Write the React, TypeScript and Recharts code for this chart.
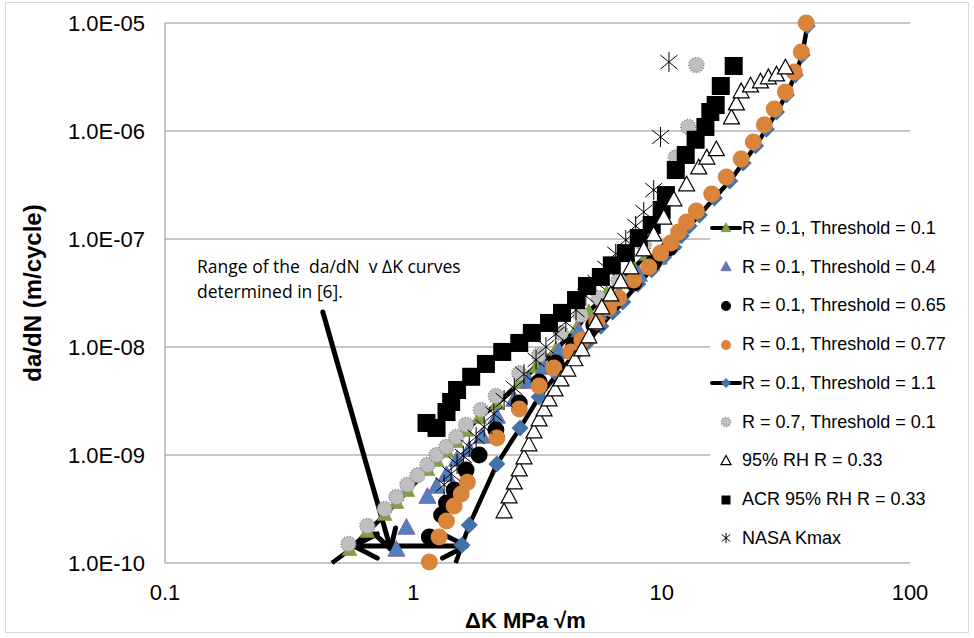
import React from 'react';
import { ScatterChart, Scatter, XAxis, YAxis, CartesianGrid, ReferenceLine, Legend, Label } from 'recharts';

// [ΔK (MPa√m), da/dN (m/cycle)]
const th01Tail: [number, number] = [0.47, 1.0e-10];
const th01: [number, number][] = [
    [0.553, 1.32e-10], [0.653, 1.94e-10], [0.766, 2.78e-10], [0.855, 3.6e-10], [0.946, 4.64e-10],
    [1.14, 7.26e-10], [1.24, 8.8e-10], [1.36, 1.07e-9], [1.49, 1.32e-9], [1.63, 1.67e-9],
    [1.84, 2.2e-9], [2.17, 2.97e-9], [2.67, 4.64e-9], [3.12, 6.5e-9], [3.75, 9.4e-9],
    [4.56, 1.5e-8], [5.09, 2.11e-8], [6.01, 3.16e-8], [6.72, 3.92e-8], [7.72, 5.4e-8], [8.71, 7.1e-8],
];
const th04: [number, number][] = [
    [0.855, 1.32e-10], [0.938, 2.11e-10], [1.14, 4.08e-10], [1.24, 5.06e-10], [1.36, 6.5e-10],
    [1.5, 9.0e-10], [1.68, 1.11e-9], [1.89, 1.47e-9], [2.17, 2.25e-9], [2.55, 3.23e-9],
    [2.92, 4.74e-9], [3.36, 6.4e-9], [3.86, 9.0e-9], [4.64, 1.38e-8], [5.58, 2.07e-8],
    [6.72, 3.1e-8], [8.09, 4.64e-8], [9.72, 6.7e-8],
];
const th065: [number, number][] = [
    [1.16, 1.74e-10], [1.3, 2.78e-10], [1.36, 3.6e-10], [1.46, 4.74e-10], [1.63, 7.26e-10],
    [1.84, 1.0e-9], [2.15, 1.7e-9], [2.67, 3.03e-9], [3.21, 4.74e-9], [3.75, 7.1e-9],
    [4.43, 1.04e-8], [5.33, 1.6e-8], [6.41, 2.55e-8], [7.72, 3.92e-8], [9.29, 6.1e-8], [10.7, 8.3e-8],
];
const th077: [number, number][] = [
    [1.16, 1.02e-10], [1.27, 1.74e-10], [1.36, 2.45e-10], [1.46, 3.37e-10], [1.56, 4.35e-10],
    [1.65, 5.6e-10], [2.17, 1.44e-9], [2.67, 2.67e-9], [3.21, 4.35e-9], [3.68, 6.4e-9],
    [4.31, 9.0e-9], [4.77, 1.16e-8], [5.48, 1.7e-8], [6.12, 2.3e-8], [6.72, 2.84e-8],
    [7.72, 4.17e-8], [8.87, 5.5e-8], [9.9, 7.4e-8], [10.9, 9.2e-8], [11.7, 1.16e-7],
    [12.6, 1.44e-7], [13.8, 1.82e-7], [15.9, 2.61e-7], [18.2, 3.75e-7], [20.9, 5.5e-7],
    [23.4, 7.9e-7], [25.9, 1.14e-6], [28.4, 1.6e-6], [31.5, 2.3e-6], [34.2, 3.52e-6],
    [36.5, 5.4e-6], [38.2, 1.0e-5],
];
const th11Tail: [number, number] = [1.48, 1.0e-10];
const th11: [number, number][] = [
    [1.57, 1.47e-10], [1.68, 2.25e-10], [2.17, 8.26e-10], [2.69, 1.78e-9], [3.21, 3.44e-9],
    [3.79, 5.6e-9], [4.43, 8.3e-9], [5.0, 1.09e-8], [5.69, 1.56e-8], [6.35, 2.11e-8],
    [6.97, 2.61e-8], [8.01, 3.83e-8], [9.12, 5.2e-8], [10.2, 6.8e-8], [11.2, 8.4e-8],
    [12.0, 1.07e-7], [12.9, 1.32e-7], [14.2, 1.67e-7], [16.3, 2.4e-7], [18.8, 3.44e-7],
    [21.3, 5.06e-7], [23.9, 7.3e-7], [26.4, 1.04e-6], [29.0, 1.5e-6], [31.8, 2.16e-6],
    [34.5, 3.3e-6], [36.8, 5.06e-6], [38.6, 9.4e-6],
];
const r07: [number, number][] = [
    [0.548, 1.5e-10], [0.653, 2.2e-10], [0.766, 3.16e-10], [0.855, 4.08e-10], [0.946, 5.3e-10],
    [1.04, 6.5e-10], [1.14, 8.1e-10], [1.24, 1.0e-9], [1.36, 1.19e-9], [1.49, 1.47e-9],
    [1.63, 1.9e-9], [1.87, 2.61e-9], [2.15, 3.52e-9], [2.67, 5.7e-9], [3.21, 8.4e-9],
    [3.93, 1.35e-8], [4.73, 1.98e-8], [5.58, 2.84e-8], [6.72, 4.17e-8], [8.47, 8.8e-8],
    [11.4, 5.7e-7], [12.8, 1.09e-6], [13.8, 4.08e-6],
];
const rh95: [number, number][] = [
    [2.32, 2.97e-10], [2.43, 4.08e-10], [2.55, 5.5e-10], [2.67, 7.26e-10], [2.79, 9.4e-10],
    [2.92, 1.24e-9], [3.06, 1.63e-9], [3.21, 2.11e-9], [3.36, 2.61e-9], [3.52, 3.23e-9],
    [3.72, 4.0e-9], [3.93, 4.94e-9], [4.19, 6.1e-9], [4.47, 7.6e-9], [4.77, 9.4e-9],
    [5.09, 1.24e-8], [5.43, 1.67e-8], [5.74, 2.3e-8], [6.24, 3.03e-8], [6.84, 4.0e-8],
    [7.51, 5.4e-8], [8.47, 7.9e-8], [9.29, 1.09e-7], [10.2, 1.56e-7], [11.2, 2.3e-7],
    [12.6, 3.16e-7], [14.1, 4.54e-7], [15.2, 5.6e-7], [16.6, 6.7e-7], [19.1, 1.32e-6],
    [20.0, 1.78e-6], [20.9, 2.3e-6], [22.8, 2.61e-6], [25.0, 2.84e-6], [26.9, 3.1e-6],
    [29.0, 3.3e-6], [31.5, 3.83e-6],
];
const acr: [number, number][] = [
    [1.13, 1.98e-9], [1.24, 1.78e-9], [1.36, 2.5e-9], [1.42, 3.1e-9], [1.5, 4.0e-9],
    [1.71, 5.3e-9], [1.96, 6.97e-9], [2.28, 9.0e-9], [2.67, 1.09e-8], [3.0, 1.35e-8],
    [3.52, 1.67e-8], [3.97, 2.07e-8], [4.52, 2.72e-8], [5.0, 3.67e-8], [5.69, 4.45e-8],
    [6.3, 5.7e-8], [7.17, 7.4e-8], [8.09, 1.02e-7], [9.12, 1.35e-7], [10.0, 1.86e-7],
    [10.4, 2.55e-7], [11.4, 4.35e-7], [12.5, 6.0e-7], [13.7, 8.3e-7], [15.0, 1.09e-6],
    [15.7, 1.5e-6], [16.5, 1.74e-6], [17.3, 2.61e-6], [19.5, 4.0e-6],
];
const nasa: [number, number][] = [
    [1.33, 5.3e-10], [1.42, 6.7e-10], [1.5, 8.26e-10], [1.59, 9.8e-10], [1.68, 1.19e-9],
    [1.79, 1.47e-9], [1.93, 1.82e-9], [2.11, 2.4e-9], [2.32, 3.23e-9], [2.55, 4.17e-9],
    [2.79, 5.6e-9], [3.12, 7.6e-9], [3.42, 1.0e-8], [3.75, 1.32e-8], [4.11, 1.7e-8],
    [4.52, 2.2e-8], [4.95, 2.97e-8], [5.43, 4.0e-8], [5.96, 5.4e-8], [6.53, 7.3e-8],
    [7.17, 9.8e-8], [7.86, 1.32e-7], [8.47, 1.78e-7], [9.29, 2.84e-7], [9.9, 8.8e-7], [10.7, 4.35e-6],
];

const xTicks = [0.1, 1, 10, 100];
const xTickLabels = ['0.1', '1', '10', '100'];
const yTicks = [1e-10, 1e-9, 1e-8, 1e-7, 1e-6, 1e-5];
const yTickLabels = ['1.0E-10', '1.0E-09', '1.0E-08', '1.0E-07', '1.0E-06', '1.0E-05'];

// annotation arrows, in data coordinates
const pointerArrow: [number, number][][] = [
    [[0.432, 2.11e-8], [0.81, 1.35e-10]],
    [[0.697, 1.86e-10], [0.81, 1.35e-10]],
    [[0.848, 2.11e-10], [0.81, 1.35e-10]],
];
const rangeArrow: [number, number][][] = [
    [[0.574, 1.44e-10], [1.63, 1.44e-10]],
    [[0.716, 1.86e-10], [0.574, 1.44e-10]],
    [[0.716, 1.11e-10], [0.574, 1.44e-10]],
    [[1.31, 1.86e-10], [1.63, 1.44e-10]],
    [[1.31, 1.11e-10], [1.63, 1.44e-10]],
];

const GREEN = '#80A040';
const BLUE = '#4F81BD';
const PURPLE = '#8064A2';
const DBLUE = '#4472A8';
const ORANGE = '#D9843B';
const GRAY = '#BFBFBF';
const FONT = '"Liberation Sans", Arial, sans-serif';

const toPts = (a: [number, number][], tail?: [number, number]) => {
    const pts = a.map(([dk, rate]) => ({ dk, rate, tail: false }));
    return tail ? [{ dk: tail[0], rate: tail[1], tail: true }, ...pts] : pts;
};

const triPath = (cx: number, cy: number, w: number) => {
    const h = w * 0.92;
    return `M${cx},${cy - h * 0.6}L${cx + w / 2},${cy + h * 0.4}L${cx - w / 2},${cy + h * 0.4}Z`;
};

const greenTri = (w: number) => (p: any) => (p.tail ? <g /> : <path d={triPath(p.cx, p.cy, w)} fill={GREEN} stroke="#6E8C36" strokeWidth={0.5} />);
const blueTri = (w: number) => (p: any) => <path d={triPath(p.cx, p.cy, w)} fill={BLUE} stroke={PURPLE} strokeWidth={1} />;
const dot = (r: number, fill: string) => (p: any) => <circle cx={p.cx} cy={p.cy} r={r} fill={fill} />;
const diamond = (r: number) => (p: any) =>
    p.tail ? <g /> : <path d={`M${p.cx},${p.cy - r}L${p.cx + r},${p.cy}L${p.cx},${p.cy + r}L${p.cx - r},${p.cy}Z`} fill={DBLUE} />;
const flower = (r: number) => (p: any) => (
    <circle cx={p.cx} cy={p.cy} r={r} fill={GRAY} stroke="#8C8C8C" strokeWidth={1.5} strokeDasharray="1.2 1.6" />
);
const openTri = (w: number) => (p: any) => <path d={triPath(p.cx, p.cy, w)} fill="#fff" stroke="#000" strokeWidth={1.2} />;
const square = (s: number) => (p: any) => <rect x={p.cx - s / 2} y={p.cy - s / 2} width={s} height={s} fill="#000" />;
const asterisk = (a: number) => (p: any) => (
    <path
        d={`M${p.cx},${p.cy - a}L${p.cx},${p.cy + a}M${p.cx - a * 0.85},${p.cy - a * 0.7}L${p.cx + a * 0.85},${p.cy + a * 0.7}M${p.cx - a * 0.85},${p.cy + a * 0.7}L${p.cx + a * 0.85},${p.cy - a * 0.7}`}
        stroke="#000"
        strokeWidth={1}
        fill="none"
    />
);

const legendItems = [
    { name: 'R = 0.1, Threshold = 0.1', line: true, icon: greenTri(10) },
    { name: 'R = 0.1, Threshold = 0.4', line: false, icon: blueTri(10) },
    { name: 'R = 0.1, Threshold = 0.65', line: false, icon: dot(5, '#000') },
    { name: 'R = 0.1, Threshold = 0.77', line: false, icon: dot(5, ORANGE) },
    { name: 'R = 0.1, Threshold = 1.1', line: true, icon: diamond(5) },
    { name: 'R = 0.7, Threshold = 0.1', line: false, icon: flower(4.5) },
    { name: '95% RH R = 0.33', line: false, icon: openTri(10) },
    { name: 'ACR 95% RH R = 0.33', line: false, icon: square(9) },
    { name: 'NASA Kmax', line: false, icon: asterisk(5) },
];

const renderLegend = () => (
    <div style={{ fontFamily: FONT, fontSize: 18, color: '#000', background: '#fff' }}>
        {legendItems.map((item) => (
            <div key={item.name} style={{ display: 'flex', alignItems: 'center', height: 38.75 }}>
                <svg width={32} height={20}>
                    {item.line && <line x1={2} x2={30} y1={10} y2={10} stroke="#000" strokeWidth={4} strokeLinecap="round" />}
                    {item.icon({ cx: 16, cy: 10 })}
                </svg>
                <span style={{ whiteSpace: 'nowrap' }}>{item.name}</span>
            </div>
        ))}
    </div>
);

const fmt = (ticks: number[], labels: string[]) => (v: number) => {
    const i = ticks.findIndex((t) => Math.abs(t - v) / t < 1e-6);
    return i >= 0 ? labels[i] : '';
};

export default function App() {
    return (
        <div style={{ position: 'absolute', left: 0, top: 0, width: 974, height: 638, background: '#fff', fontFamily: FONT }}>
            <div style={{ position: 'absolute', left: 5, top: 2, width: 962, height: 629, border: '1px solid #D9D9D9' }} />
            <ScatterChart width={974} height={638} margin={{ top: 23, right: 64, bottom: 15, left: 65 }}>
                <CartesianGrid vertical={false} stroke="#8E8E8E" strokeWidth={1} />
                <XAxis
                    dataKey="dk"
                    type="number"
                    scale="log"
                    domain={[0.1, 100]}
                    ticks={xTicks}
                    interval={0}
                    tickFormatter={fmt(xTicks, xTickLabels)}
                    axisLine={false}
                    tickLine={false}
                    tickSize={0}
                    tickMargin={21}
                    height={60}
                    tick={{ fontSize: 22, fill: '#000', fontFamily: FONT }}
                >
                    <Label
                        content={(p: any) => (
                            <text x={p.viewBox.x + p.viewBox.width / 2 - 12} y={p.viewBox.y + 65} textAnchor="middle" fontSize={22} fontWeight="bold" fontFamily={FONT} fill="#000">
                                ΔK MPa √m
                            </text>
                        )}
                    />
                </XAxis>
                <YAxis
                    dataKey="rate"
                    type="number"
                    scale="log"
                    domain={[1e-10, 1e-5]}
                    ticks={yTicks}
                    interval={0}
                    tickFormatter={fmt(yTicks, yTickLabels)}
                    axisLine={{ stroke: '#8E8E8E' }}
                    tickLine={false}
                    tickSize={0}
                    tickMargin={20}
                    width={100}
                    tick={{ fontSize: 22, fill: '#000', fontFamily: FONT }}
                >
                    <Label
                        content={(p: any) => {
                            const x = p.viewBox.x - 33;
                            const y = p.viewBox.y + p.viewBox.height / 2;
                            return (
                                <text x={x} y={y} transform={`rotate(-90 ${x} ${y})`} textAnchor="middle" dominantBaseline="central" fontSize={24} fontWeight="bold" fontFamily={FONT} fill="#000">
                                    da/dN (m/cycle)
                                </text>
                            );
                        }}
                    />
                </YAxis>
                <Legend
                    layout="vertical"
                    align="center"
                    verticalAlign="middle"
                    wrapperStyle={{ left: 710, top: 209, width: 252, height: 349, background: '#fff' }}
                    content={renderLegend}
                />
                <Scatter name="R = 0.1, Threshold = 1.1" data={toPts(th11, th11Tail)} shape={diamond(8.5)} line={{ stroke: '#000', strokeWidth: 4.5 }} lineType="joint" isAnimationActive={false} />
                <Scatter name="R = 0.1, Threshold = 0.1" data={toPts(th01, th01Tail)} shape={greenTri(15)} line={{ stroke: '#000', strokeWidth: 4.5 }} lineType="joint" isAnimationActive={false} />
                <Scatter name="R = 0.1, Threshold = 0.4" data={toPts(th04)} shape={blueTri(17)} isAnimationActive={false} />
                <Scatter name="R = 0.1, Threshold = 0.65" data={toPts(th065)} shape={dot(8.5, '#000')} isAnimationActive={false} />
                <Scatter name="R = 0.1, Threshold = 0.77" data={toPts(th077)} shape={dot(8.5, ORANGE)} isAnimationActive={false} />
                <Scatter name="R = 0.7, Threshold = 0.1" data={toPts(r07)} shape={flower(7.5)} isAnimationActive={false} />
                <Scatter name="ACR 95% RH R = 0.33" data={toPts(acr)} shape={square(18)} isAnimationActive={false} />
                <Scatter name="95% RH R = 0.33" data={toPts(rh95)} shape={openTri(16)} isAnimationActive={false} />
                <Scatter name="NASA Kmax" data={toPts(nasa)} shape={asterisk(10)} isAnimationActive={false} />
                {[...pointerArrow, ...rangeArrow].map((seg, i) => (
                    <ReferenceLine
                        key={i}
                        segment={seg.map(([x, y]) => ({ x, y }))}
                        stroke="#000"
                        strokeWidth={5}
                        strokeLinecap="round"
                        ifOverflow="visible"
                    />
                ))}
            </ScatterChart>
            <div style={{ position: 'absolute', left: 197, top: 254, fontFamily: '"Open Sans", Lato, sans-serif', fontSize: 17.5, lineHeight: '25px', color: '#000', whiteSpace: 'pre' }}>
                {'Range of the  da/dN  v \u0394K curves\ndetermined in [6].'}
            </div>
        </div>
    );
}
